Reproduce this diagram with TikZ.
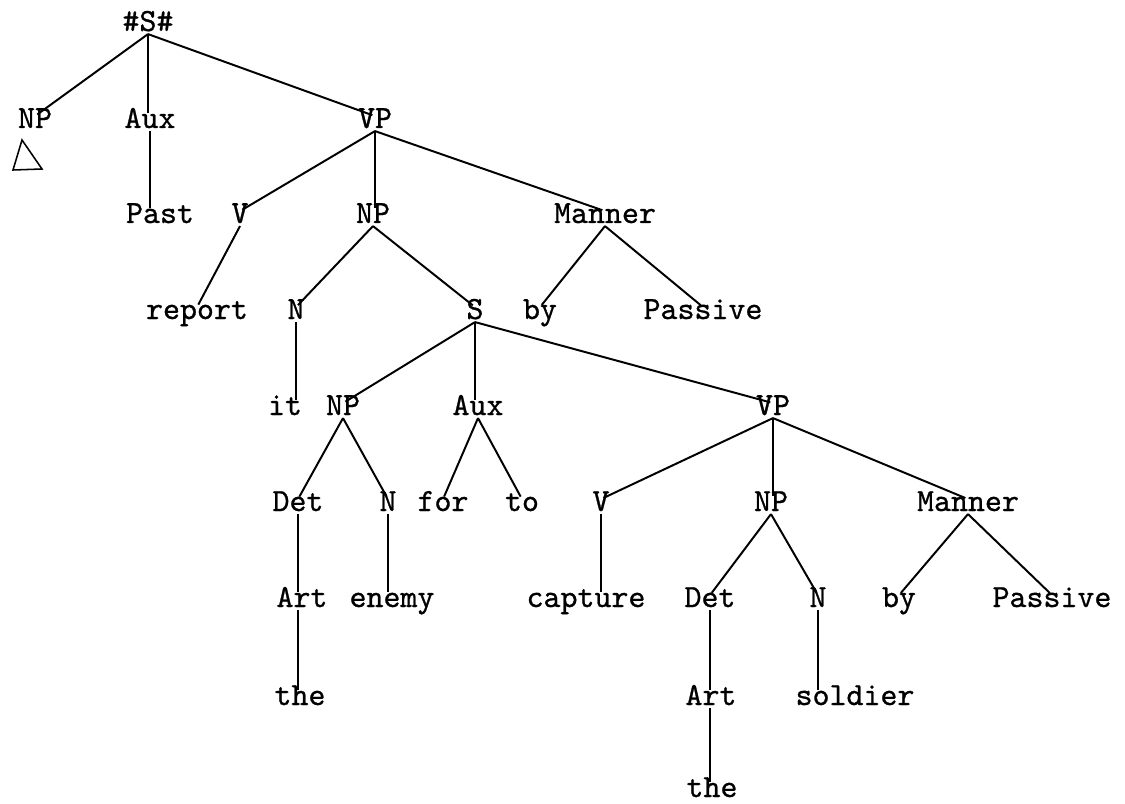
\documentclass[tikz,border=0pt]{standalone}
\usepackage{fontspec}
\newfontfamily\typewriter{lmmono10-regular.otf}[FakeBold=0.8]
\usetikzlibrary{calc}
\tikzstyle{word} = [font=\typewriter\fontsize{23}{27}\selectfont, inner sep=2pt, text height=1.45ex, text depth=0pt, anchor=base]
\tikzstyle{branch} = [draw, line width=1.4pt, shorten >=2pt]

\begin{document}
\begin{tikzpicture}[x=0.25mm,y=-0.25mm]

\fill[white] (0,0) rectangle (1125,804);
\useasboundingbox (0,0) rectangle (1125,804);
%\draw[help lines] (0,0) grid[step=50] (1125,804);

% top level
\node[word] (top) at (148,31) {\#S\#};

\node[word] (np1) at (35,128) {NP};
\node[word] (aux1) at (150,128) {Aux};
\node[word] (vp1) at (375,128) {VP};

\node[word] (past) at (160,223) {Past};
\node[word] (v1) at (240,223) {V};
\node[word] (np2) at (373,223) {NP};
\node[word] (man1) at (605,223) {Manner};

\node[word] (report) at (197,319) {report};
\node[word] (n1) at (296,319) {N};
\node[word] (s1) at (475,319) {S};
\node[word] (by1) at (540,319) {by};
\node[word] (pas1) at (703,319) {Passive};

% embedded S
\node[word] (it) at (285,415) {it};
\node[word] (np3) at (343,415) {NP};
\node[word] (aux2) at (478,415) {Aux};
\node[word] (vp2) at (773,415) {VP};

\node[word] (det1) at (298,511) {Det};
\node[word] (n2) at (388,511) {N};
\node[word] (for) at (443,511) {for};
\node[word] (to) at (522,511) {to};
\node[word] (v2) at (601,511) {V};
\node[word] (np4) at (771,511) {NP};
\node[word] (man2) at (968,511) {Manner};

\node[word] (art1) at (302,607) {Art};
\node[word] (enemy) at (392,607) {enemy};
\node[word] (capture) at (586,607) {capture};
\node[word] (det2) at (710,607) {Det};
\node[word] (n3) at (818,607) {N};
\node[word] (by2) at (899,607) {by};
\node[word] (pas2) at (1052,607) {Passive};

\node[word] (the1) at (300,705) {the};
\node[word] (art2) at (711,705) {Art};
\node[word] (soldier) at (855,705) {soldier};

\node[word] (the2) at (712,797) {the};

% 'deleted' subject
\draw[line width=1.1pt] (22,140) -- (13,170) -- (42,169) -- cycle;

% branches
\draw[branch] (top.south) -- (np1.north);
\draw[branch] (top.south) -- (top.south |- aux1.north);
\draw[branch] (top.south) -- (vp1.north);
\draw[branch] (aux1.south) -- (aux1.south |- past.north);
\draw[branch] (vp1.south) -- (v1.north);
\draw[branch] (vp1.south) -- (vp1.south |- np2.north);
\draw[branch] (vp1.south) -- (man1.north);
\draw[branch] (v1.south) -- (report.north);
\draw[branch] (np2.south) -- (n1.north);
\draw[branch] (np2.south) -- (s1.north);
\draw[branch] (man1.south) -- (by1.north);
\draw[branch] (man1.south) -- (pas1.north);
\draw[branch] (n1.south) -- (n1.south |- it.north);

\draw[branch] (s1.south) -- (np3.north);
\draw[branch] (s1.south) -- (s1.south |- aux2.north);
\draw[branch] (s1.south) -- (vp2.north);
\draw[branch] (np3.south) -- (det1.north);
\draw[branch] (np3.south) -- (n2.north);
\draw[branch] (aux2.south) -- (for.north);
\draw[branch] (aux2.south) -- (to.north);
\draw[branch] (vp2.south) -- (v2.north);
\draw[branch] (vp2.south) -- (vp2.south |- np4.north);
\draw[branch] (vp2.south) -- (man2.north);
\draw[branch] (det1.south) -- (det1.south |- art1.north);
\draw[branch] (det1.south |- art1.south) -- (det1.south |- the1.north);
\draw[branch] (n2.south) -- (n2.south |- enemy.north);
\draw[branch] (v2.south) -- (v2.south |- capture.north);
\draw[branch] (np4.south) -- (det2.north);
\draw[branch] (np4.south) -- (n3.north);
\draw[branch] (det2.south) -- (det2.south |- art2.north);
\draw[branch] (det2.south |- art2.south) -- (det2.south |- the2.north);
\draw[branch] (n3.south) -- (n3.south |- soldier.north);
\draw[branch] (man2.south) -- (by2.north);
\draw[branch] (man2.south) -- (pas2.north);

\end{tikzpicture}
\end{document}
